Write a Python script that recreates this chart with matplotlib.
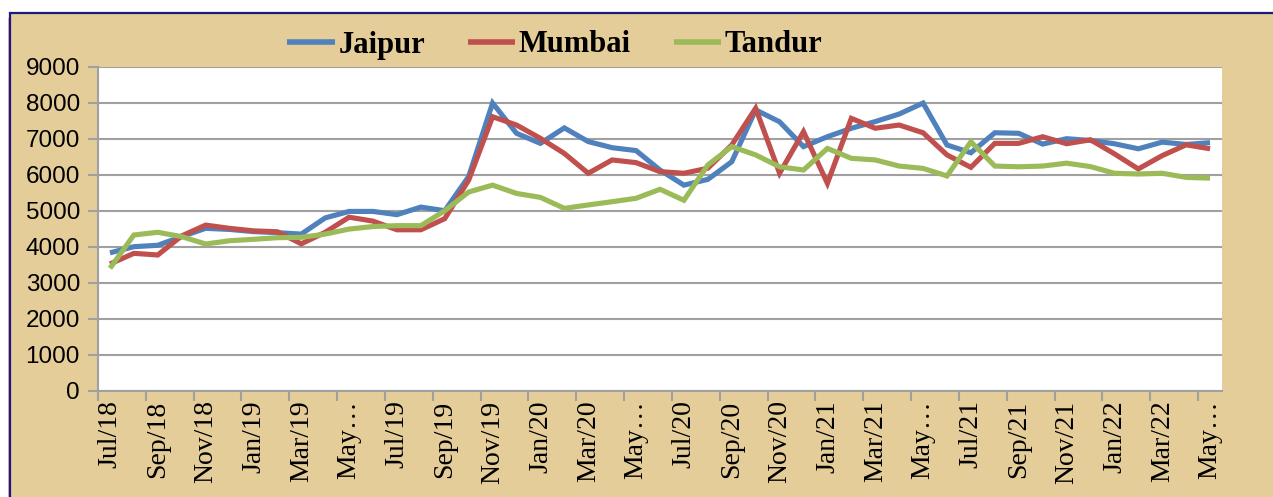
import matplotlib
matplotlib.use("Agg")
import matplotlib.pyplot as plt
from matplotlib.patches import Rectangle
from matplotlib.ticker import FixedLocator

months = ["Jul/18", "Aug/18", "Sep/18", "Oct/18", "Nov/18", "Dec/18",
          "Jan/19", "Feb/19", "Mar/19", "Apr/19", "May/19", "Jun/19",
          "Jul/19", "Aug/19", "Sep/19", "Oct/19", "Nov/19", "Dec/19",
          "Jan/20", "Feb/20", "Mar/20", "Apr/20", "May/20", "Jun/20",
          "Jul/20", "Aug/20", "Sep/20", "Oct/20", "Nov/20", "Dec/20",
          "Jan/21", "Feb/21", "Mar/21", "Apr/21", "May/21", "Jun/21",
          "Jul/21", "Aug/21", "Sep/21", "Oct/21", "Nov/21", "Dec/21",
          "Jan/22", "Feb/22", "Mar/22", "Apr/22", "May/22"]

jaipur = [3830, 4000, 4040, 4280, 4510, 4480, 4420, 4390, 4350, 4800,
          4980, 4980, 4890, 5100, 5000, 5950, 7990, 7150, 6870, 7300,
          6920, 6750, 6670, 6130, 5710, 5870, 6360, 7800, 7470, 6780,
          7055, 7290, 7475, 7685, 7990, 6825, 6610, 7165, 7150, 6850,
          7000, 6950, 6860, 6720, 6905, 6840, 6890]

mumbai = [3520, 3815, 3770, 4300, 4600, 4510, 4440, 4415, 4080, 4400,
          4820, 4710, 4470, 4470, 4780, 5850, 7610, 7380, 7010, 6590,
          6040, 6410, 6335, 6085, 6040, 6180, 6825, 7845, 6040, 7195,
          5760, 7565, 7290, 7380, 7165, 6550, 6205, 6870, 6870, 7055,
          6860, 6970, 6580, 6160, 6530, 6830, 6720]

tandur = [3400, 4325, 4400, 4280, 4075, 4165, 4205, 4250, 4260, 4350,
          4490, 4560, 4585, 4585, 5000, 5520, 5710, 5480, 5370, 5065,
          5160, 5250, 5345, 5595, 5290, 6270, 6780, 6550, 6220, 6130,
          6730, 6455, 6410, 6240, 6175, 5965, 6915, 6240, 6220, 6240,
          6320, 6225, 6040, 6020, 6040, 5925, 5905]

series = [("Jaipur", jaipur, "#4F81BD"),
          ("Mumbai", mumbai, "#C0504D"),
          ("Tandur", tandur, "#9BBB59")]

W, H = 1273, 497
fig = plt.figure(figsize=(W / 100, H / 100), dpi=100)
fig.patch.set_facecolor("white")

# chart area (parchment) with navy frame
top = 1 - 13 / H
fig.patches.append(Rectangle((7.5 / W, -0.2), 2.5 / W, 0.2 + top - 0.01,
                             transform=fig.transFigure, facecolor="#F2A8C8",
                             edgecolor="none", zorder=-10))
fig.patches.append(Rectangle((10 / W, -0.2), 1.2, 0.2 + top,
                             transform=fig.transFigure, facecolor="#E4CD98",
                             edgecolor="#1A1A78", linewidth=1.6, zorder=-9))

ax = fig.add_axes([98 / W, 1 - 390.7 / H, (1222 - 98) / W, (390.7 - 66.7) / H])
ax.set_facecolor("white")

x = list(range(len(months)))
for name, vals, col in series:
    ax.plot(x, vals, color=col, lw=3.7, label=name, solid_joinstyle="miter",
            solid_capstyle="butt", zorder=3)

ax.set_xlim(-0.5, len(months) - 0.5)
ax.set_ylim(0, 9000)
ax.set_yticks(range(0, 9001, 1000))
ax.yaxis.grid(True, color="#A0A0A0", lw=1.5, zorder=1)
ax.set_axisbelow(True)

labels = [m if not m.startswith("May") else "May…" for m in months]
ax.set_xticks(x[::2])
ax.set_xticklabels(labels[::2], rotation=90, fontfamily="Liberation Serif",
                   fontsize=20, va="top", ha="center")
ax.xaxis.set_minor_locator(FixedLocator([i - 0.5 for i in range(0, len(months), 2)]))
ax.tick_params(axis="x", which="major", length=0, pad=7)
ax.tick_params(axis="x", which="minor", length=7, width=1.5, color="#A0A0A0")
ax.tick_params(axis="y", length=7, width=1.5, color="#A0A0A0", pad=6,
               labelsize=17.5)
for lab in ax.get_yticklabels():
    lab.set_fontfamily("Liberation Sans")

for s in ["top", "right"]:
    ax.spines[s].set_visible(False)
for s in ["left", "bottom"]:
    ax.spines[s].set_color("#A0A0A0")
    ax.spines[s].set_linewidth(1.5)

leg = fig.legend(loc="center", bbox_to_anchor=(555 / W, 1 - 45 / H), ncol=3,
                 frameon=False, handlelength=1.55, handletextpad=0.12,
                 columnspacing=1.4,
                 prop={"family": "Liberation Serif", "weight": "bold", "size": 22})
for h in leg.get_lines():
    h.set_linewidth(4)

fig.savefig("out.png", dpi=100, facecolor=fig.get_facecolor())
